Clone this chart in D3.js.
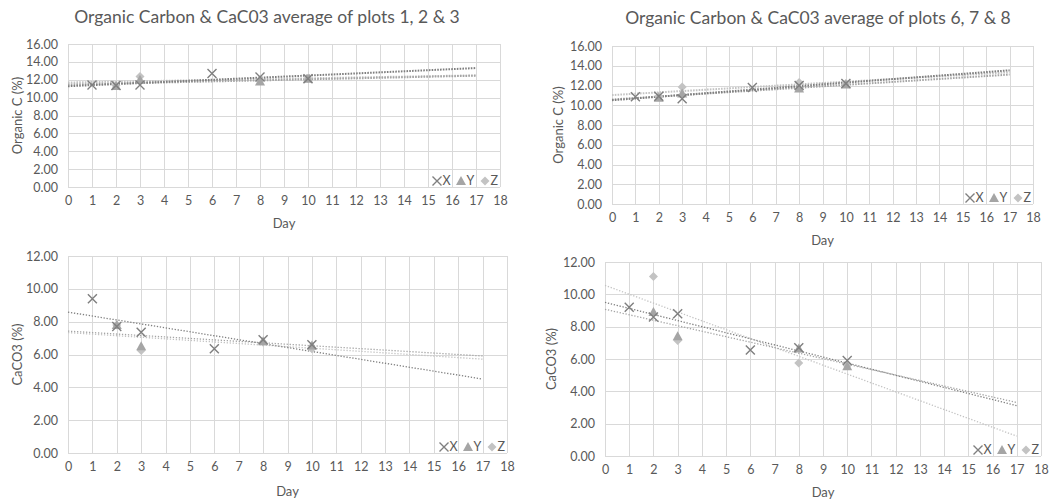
<!DOCTYPE html>
<meta charset="utf-8">

<script src="https://d3js.org/d3.v7.min.js"></script>

<style type="text/css">

body {
  margin: 0;
  background: #fff;
}

svg text {
  font-family: Lato, "Open Sans", sans-serif;
  fill: #595959;
}

.title {
  font-size: 17.5px;
}

.tick text, .legend text {
  font-size: 12.5px;
}

.axisTitle {
  font-size: 13px;
}

.grid line {
  stroke: #d9d9d9;
  stroke-width: 1px;
}

/* dotted trend lines */
.trend {
  fill: none;
  stroke-linecap: butt;
}

</style>

<body>
</body>

<script>

// days sampled
var daysX = [1, 2, 3, 6, 8, 10];
var daysYZ = [2, 3, 8, 10];
var xTicks = d3.range(0, 19);

// Organic C (%) plots 1, 2 & 3
var orgC123X = [11.4, 11.35, 11.4, 12.7, 12.3, 12.1];
var orgC123Y = [11.3, 12.0, 11.8, 12.1];
var orgC123Z = [11.35, 12.35, 12.0, 12.15];

// Organic C (%) plots 6, 7 & 8
var orgC678X = [10.85, 10.9, 10.65, 11.8, 12.0, 12.2];
var orgC678Y = [10.75, 11.2, 11.7, 12.1];
var orgC678Z = [10.9, 11.85, 12.3, 12.2];

// CaCO3 (%) plots 1, 2 & 3
var caco123X = [9.4, 7.7, 7.35, 6.35, 6.9, 6.6];
var caco123Y = [7.8, 6.5, 6.8, 6.55];
var caco123Z = [7.8, 6.25, 6.75, 6.35];

// CaCO3 (%) plots 6, 7 & 8
var caco678X = [9.2, 8.6, 8.8, 6.55, 6.7, 5.9];
var caco678Y = [8.9, 7.4, 6.65, 5.55];
var caco678Z = [11.1, 7.15, 5.75, 5.6];

var seriesNames = ['X', 'Y', 'Z'];
var colors = {X: '#7f7f7f', Y: '#a5a5a5', Z: '#c3c3c3'};

var svg = d3.select('body').append('svg')
  .attr('width', 1053)
  .attr('height', 502);

// least squares fit, same as excel linear trendline
function fit(xs, ys) {
  var mx = d3.mean(xs), my = d3.mean(ys);
  var sxy = 0, sxx = 0;
  xs.forEach(function(x, i) {
    sxy += (x - mx) * (ys[i] - my);
    sxx += (x - mx) * (x - mx);
  });
  var slope = sxy / sxx;
  return {slope: slope, intercept: my - slope * mx};
}

function marker(g, name, size) {
  var s = size;
  if (name == 'X') {
    g.append('path')
      .attr('d', 'M' + (-s) + ',' + (-s) + 'L' + s + ',' + s + 'M' + (-s) + ',' + s + 'L' + s + ',' + (-s))
      .style('stroke', colors.X)
      .style('stroke-width', 1.4)
      .style('fill', 'none');
  } else if (name == 'Y') {
    g.append('path')
      .attr('d', 'M0,' + (-s - 0.5) + 'L' + (s + 0.5) + ',' + (s - 0.5) + 'L' + (-s - 0.5) + ',' + (s - 0.5) + 'Z')
      .style('fill', colors.Y);
  } else {
    g.append('path')
      .attr('d', 'M0,' + (-s) + 'L' + s + ',0L0,' + s + 'L' + (-s) + ',0Z')
      .style('fill', colors.Z);
  }
}

function drawPanel(p) {
  var xScale = d3.scaleLinear().domain([0, 18]).range([p.left, p.right]);
  var yScale = d3.scaleLinear().domain([0, p.ymax]).range([p.bottom, p.top]);
  var yTicks = d3.range(0, p.ymax + 0.1, 2);

  var g = svg.append('g');

  // gridlines
  var grid = g.append('g').attr('class', 'grid');
  grid.selectAll('.v').data(xTicks).enter().append('line')
    .attr('x1', function(d) { return Math.round(xScale(d)) + 0.5; })
    .attr('x2', function(d) { return Math.round(xScale(d)) + 0.5; })
    .attr('y1', p.top)
    .attr('y2', p.bottom);
  grid.selectAll('.h').data(yTicks).enter().append('line')
    .attr('x1', p.left)
    .attr('x2', p.right)
    .attr('y1', function(d) { return Math.round(yScale(d)) + 0.5; })
    .attr('y2', function(d) { return Math.round(yScale(d)) + 0.5; });

  // axes
  var xAxis = d3.axisBottom(xScale).tickValues(xTicks).tickSize(0).tickPadding(9);
  var yAxis = d3.axisLeft(yScale).tickValues(yTicks).tickSize(0).tickPadding(10)
    .tickFormat(d3.format('.2f'));

  g.append('g')
    .attr('transform', 'translate(0,' + p.bottom + ')')
    .call(xAxis)
    .call(function(a) { a.select('.domain').remove(); });

  g.append('g')
    .attr('transform', 'translate(' + p.left + ',0)')
    .call(yAxis)
    .call(function(a) { a.select('.domain').remove(); });

  g.selectAll('.tick text').attr('fill', '#595959');

  // axis titles
  g.append('text')
    .attr('class', 'axisTitle')
    .attr('x', (p.left + p.right) / 2)
    .attr('y', p.xTitleY)
    .attr('text-anchor', 'middle')
    .text('Day');

  g.append('text')
    .attr('class', 'axisTitle')
    .attr('transform', 'translate(' + p.yTitleX + ',' + (p.top + p.bottom) / 2 + ') rotate(-90)')
    .attr('text-anchor', 'middle')
    .attr('dy', '0.35em')
    .text(p.yTitle);

  if (p.title) {
    g.append('text')
      .attr('class', 'title')
      .attr('x', p.titleX)
      .attr('y', p.titleY)
      .attr('text-anchor', 'middle')
      .attr('dy', '0.35em')
      .text(p.title);
  }

  // trend lines, light first so darker sits on top
  var line = d3.line()
    .x(function(d) { return xScale(d[0]); })
    .y(function(d) { return yScale(d[1]); });

  ['Z', 'Y', 'X'].forEach(function(name) {
    var xs = name == 'X' ? daysX : daysYZ;
    var f = fit(xs, p.data[name]);
    g.append('path')
      .attr('class', 'trend')
      .attr('d', line([[0, f.intercept], [17, f.intercept + 17 * f.slope]]))
      .style('stroke', colors[name])
      .style('stroke-width', p.trendWidth)
      .style('stroke-dasharray', p.trendDash);
  });

  // markers
  ['Z', 'Y', 'X'].forEach(function(name) {
    var xs = name == 'X' ? daysX : daysYZ;
    var pts = p.data[name].map(function(v, i) { return [xs[i], v]; });
    g.selectAll('.m' + name).data(pts).enter().append('g')
      .attr('class', 'm' + name)
      .attr('transform', function(d) { return 'translate(' + xScale(d[0]) + ',' + yScale(d[1]) + ')'; })
      .each(function() { marker(d3.select(this), name, 4.5); });
  });

  // legend, bottom right inside plot
  var legend = g.append('g')
    .attr('class', 'legend')
    .attr('transform', 'translate(' + p.right + ',' + (p.bottom - 6) + ')');
  var legendOffsets = [-63, -39, -15];
  seriesNames.forEach(function(name, i) {
    var item = legend.append('g').attr('transform', 'translate(' + legendOffsets[i] + ',0)');
    marker(item, name, 4.5);
    item.append('text')
      .attr('x', 5.5)
      .attr('dy', '0.35em')
      .text(name);
  });
}

drawPanel({
  left: 68, right: 500, top: 44, bottom: 187, ymax: 16,
  title: 'Organic Carbon & CaC03 average of plots 1, 2 & 3', titleX: 267, titleY: 17,
  yTitle: 'Organic C (%)', yTitleX: 17, xTitleY: 228,
  trendWidth: 2, trendDash: '1.6,1.2',
  data: {X: orgC123X, Y: orgC123Y, Z: orgC123Z}
});

drawPanel({
  left: 612, right: 1033, top: 46, bottom: 204, ymax: 16,
  title: 'Organic Carbon & CaC03 average of plots 6, 7 & 8', titleX: 818, titleY: 18,
  yTitle: 'Organic C (%)', yTitleX: 558, xTitleY: 245,
  trendWidth: 2, trendDash: '1.6,1.2',
  data: {X: orgC678X, Y: orgC678Y, Z: orgC678Z}
});

drawPanel({
  left: 68, right: 507, top: 256, bottom: 453, ymax: 12,
  yTitle: 'CaCO3 (%)', yTitleX: 17, xTitleY: 496,
  trendWidth: 1.3, trendDash: '1.3,1.7',
  data: {X: caco123X, Y: caco123Y, Z: caco123Z}
});

drawPanel({
  left: 605, right: 1041, top: 262, bottom: 456, ymax: 12,
  yTitle: 'CaCO3 (%)', yTitleX: 551, xTitleY: 497,
  trendWidth: 1.3, trendDash: '1.3,1.7',
  data: {X: caco678X, Y: caco678Y, Z: caco678Z}
});

</script>
